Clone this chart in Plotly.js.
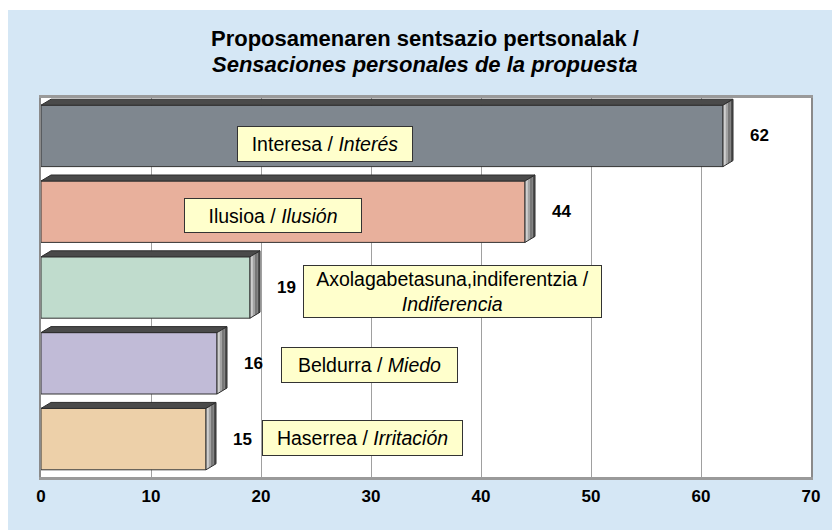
<!DOCTYPE html>
<html>
<head>
<meta charset="utf-8">
<script src="https://cdn.plot.ly/plotly-3.0.1.min.js"></script>
<style>html,body{margin:0;padding:0;background:#fff;}#chart{width:832px;height:530px;}</style>
</head>
<body>
<div id="chart"></div>
<script>
// ---- data ----
const categories = [
  "Interesa / <i>Interés</i>",
  "Ilusioa / <i>Ilusión</i>",
  "Axolagabetasuna,indiferentzia /<br><i>Indiferencia</i>",
  "Beldurra / <i>Miedo</i>",
  "Haserrea / <i>Irritación</i>"
];
const values = [62, 44, 19, 16, 15];
const barColors = ["#7f878f", "#e8b09c", "#c0dccd", "#c1bbd7", "#edd0a9"];
const tickValues = [0, 10, 20, 30, 40, 50, 60, 70];
const titleLines = ["<b>Proposamenaren sentsazio pertsonalak /</b>", "<b><i>Sensaciones personales de la propuesta</i></b>"];

// ---- layout helpers (positions / styles, not data) ----
const FONT = 'Liberation Sans, Arial, sans-serif';
const labelX = [25.8, 21.1, 37.4, 29.9, 29.2];
const labelShift = [-8, -4, -4, -2, 1];
const labelBox = [[172, 32], [174, 31], [295, 49], [173, 32], [197, 32]];
const barW = 0.81, dx = 0.91, dy = 0.079;
const idx = categories.map((_, i) => i);

const shapes = [];
values.forEach((v, i) => {
  const t = i - barW / 2, b = i + barW / 2;
  shapes.push({type: 'path', xref: 'x', yref: 'y',
    path: `M0,${t} L${v},${t} L${v + dx},${t - dy} L${dx},${t - dy} Z`,
    fillcolor: '#4a4a4a', line: {color: '#2e2e2e', width: 1}});
  const cols = ['#cfcfcf', '#a3a3a3', '#777777', '#4e4e4e'];
  cols.forEach((c, k) => {
    const a = k / cols.length, e = (k + 1) / cols.length;
    shapes.push({type: 'path', xref: 'x', yref: 'y',
      path: `M${v + a * dx},${t - a * dy} L${v + e * dx},${t - e * dy} L${v + e * dx},${b - e * dy} L${v + a * dx},${b - a * dy} Z`,
      fillcolor: c, line: {width: 0}});
  });
  shapes.push({type: 'path', xref: 'x', yref: 'y',
    path: `M${v},${t} L${v + dx},${t - dy} L${v + dx},${b - dy} L${v},${b} Z`,
    fillcolor: 'rgba(0,0,0,0)', line: {color: '#2e2e2e', width: 1}});
});
shapes.push({type: 'rect', xref: 'paper', yref: 'paper', x0: -0.06, x1: 1.1, y0: (477 - 10) / 379, y1: 1.4, fillcolor: '#ffffff', line: {width: 0}, layer: 'below'});
shapes.push({type: 'rect', xref: 'paper', yref: 'paper', x0: -0.06, x1: (8 - 41) / 770, y0: -0.2, y1: 1.4, fillcolor: '#ffffff', line: {width: 0}, layer: 'below'});

const annotations = [];
values.forEach((v, i) => {
  annotations.push({x: v, y: i, xref: 'x', yref: 'y', text: String(v), showarrow: false,
    xanchor: 'center', xshift: 36, font: {family: FONT, size: 17, color: '#000', weight: 'bold'}});
  annotations.push({x: labelX[i], y: i, xref: 'x', yref: 'y', text: categories[i], showarrow: false,
    yshift: labelShift[i], width: labelBox[i][0], height: labelBox[i][1], align: 'center', valign: 'middle',
    bgcolor: '#ffffcc', bordercolor: '#333333', borderwidth: 1, borderpad: 1,
    font: {family: FONT, size: 19.5, color: '#000'}});
});
const titleY = [(477 - 39) / 379, (477 - 64) / 379];
titleLines.forEach((t, k) => {
  annotations.push({x: (425 - 41) / 770, y: titleY[k], xref: 'paper', yref: 'paper', text: t,
    showarrow: false, xanchor: 'center', yanchor: 'middle', font: {family: FONT, size: 22, color: '#000'}});
});

const trace = {
  type: 'bar', orientation: 'h', x: values, y: idx, width: barW,
  marker: {color: barColors, line: {color: '#333333', width: 1}},
  hoverinfo: 'x', text: categories, textposition: 'none'
};

const layout = {
  width: 832, height: 530,
  margin: {l: 41, r: 21, t: 98, b: 53},
  paper_bgcolor: '#d5e7f5', plot_bgcolor: '#ffffff',
  showlegend: false,
  font: {family: FONT, color: '#000'},
  xaxis: {
    range: [0, 70], tickvals: tickValues, ticktext: tickValues.map(String),
    showgrid: true, gridcolor: '#a0a0a0', gridwidth: 1, zeroline: false,
    showline: true, mirror: true, linecolor: '#9a9a9a', linewidth: 3,
    ticks: '', ticklabelstandoff: 2,
    tickfont: {family: FONT, size: 17, color: '#000', weight: 'bold'},
    fixedrange: true
  },
  yaxis: {
    range: [4.5, -0.5], showticklabels: false, showgrid: false, zeroline: false,
    showline: true, mirror: true, linecolor: '#8a8a8a', linewidth: 2, ticks: '', fixedrange: true
  },
  shapes: shapes,
  annotations: annotations
};

Plotly.newPlot('chart', [trace], layout, {displayModeBar: false, staticPlot: true});
</script>
</body>
</html>
